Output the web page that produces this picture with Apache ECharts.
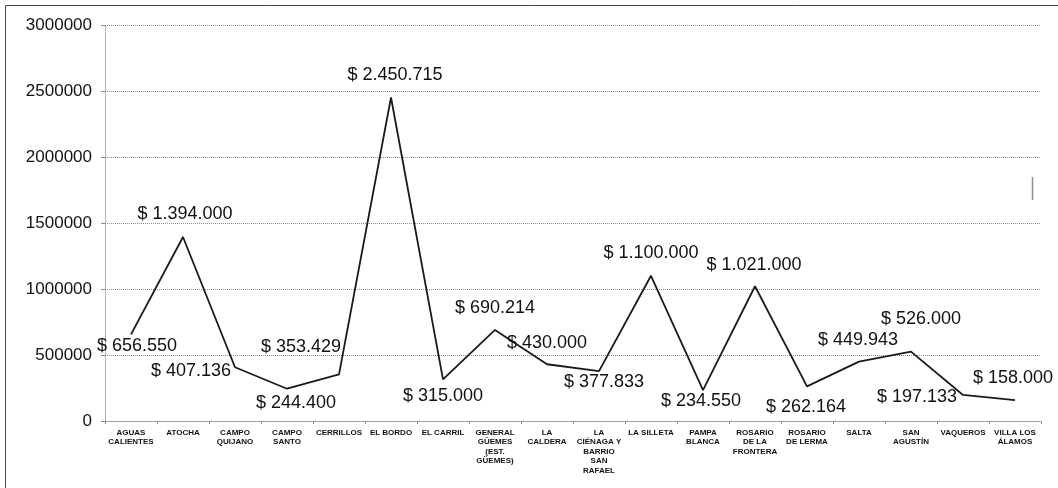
<!DOCTYPE html>
<html>
<head>
<meta charset="utf-8">
<script src="https://cdn.jsdelivr.net/npm/echarts@6/dist/echarts.min.js"></script>
<style>html,body{margin:0;padding:0;background:#fff;}#c{width:1058px;height:488px;}</style>
</head>
<body>
<div id="c"></div>
<script>
const categories = [
  "AGUAS\nCALIENTES", "ATOCHA", "CAMPO\nQUIJANO", "CAMPO\nSANTO", "CERRILLOS",
  "EL BORDO", "EL CARRIL", "GENERAL\nGÜEMES\n(EST.\nGÜEMES)", "LA\nCALDERA",
  "LA\nCIÉNAGA Y\nBARRIO\nSAN\nRAFAEL", "LA SILLETA", "PAMPA\nBLANCA",
  "ROSARIO\nDE LA\nFRONTERA", "ROSARIO\nDE LERMA", "SALTA", "SAN\nAGUSTÍN",
  "VAQUEROS", "VILLA LOS\nÁLAMOS"
];
const values = [
  656550, 1394000, 407136, 244400, 353429, 2450715, 315000, 690214, 430000,
  377833, 1100000, 234550, 1021000, 262164, 449943, 526000, 197133, 158000
];
const yTicks = { min: 0, max: 3000000, interval: 500000 };

// label offsets (label centre relative to the point), in px
const labelOffsets = [
  [6, 12], [2, -23], [-44, 4], [9, 14], [-38, -27], [4, -22], [0, 17], [0, -22], [0, -21],
  [5, 11], [0, -23], [-2, 11], [-1, -21], [-1, 21], [-1, -22], [10, -33], [-46, 2], [-2, -22]
];

function fmt(v) {
  return '$ ' + String(v).replace(/\B(?=(\d{3})+(?!\d))/g, '.');
}

const chart = echarts.init(document.getElementById('c'), null, { renderer: 'canvas' });
chart.setOption({
  backgroundColor: '#ffffff',
  animation: false,
  textStyle: { fontFamily: 'Liberation Sans, Arial, sans-serif' },
  grid: { left: 105, right: 17, top: 25, bottom: 67, containLabel: false },
  xAxis: {
    type: 'category',
    data: categories,
    boundaryGap: true,
    axisLine: { show: true, lineStyle: { color: '#8a8a8a', width: 1, type: 'dotted' } },
    axisTick: { show: true, length: 3, lineStyle: { color: '#8a8a8a' } },
    axisLabel: {
      interval: 0, fontSize: 8, fontWeight: 'bold', color: '#111', lineHeight: 9.5, margin: 7,
      fontFamily: 'Liberation Sans, Arial, sans-serif'
    },
    splitLine: { show: false }
  },
  yAxis: {
    type: 'value',
    min: yTicks.min, max: yTicks.max, interval: yTicks.interval,
    axisLine: { show: true, lineStyle: { color: '#a0a0a0', width: 1, type: 'dotted' } },
    axisTick: { show: true, length: 4, lineStyle: { color: '#8a8a8a' } },
    axisLabel: {
      fontSize: 17, color: '#111', margin: 13, fontFamily: 'Liberation Sans, Arial, sans-serif',
      formatter: v => String(v)
    },
    splitLine: { show: true, lineStyle: { color: '#8c8c8c', width: 1, type: 'dotted' } }
  },
  series: [{
    type: 'line',
    data: values,
    symbol: 'circle',
    symbolSize: 1,
    showSymbol: true,
    itemStyle: { color: 'rgba(0,0,0,0)', borderWidth: 0 },
    lineStyle: { color: '#1a1a1a', width: 1.8 },
    label: {
      show: true,
      position: 'inside',
      fontSize: 18,
      color: '#111',
      fontFamily: 'Liberation Sans, Arial, sans-serif',
      formatter: p => fmt(p.value)
    },
    labelLayout: p => ({
      dx: labelOffsets[p.dataIndex][0],
      dy: labelOffsets[p.dataIndex][1],
      hideOverlap: false
    })
  }],
  graphic: [
    { type: 'rect', shape: { x: 5.5, y: 5.5, width: 1200, height: 700 }, style: { fill: 'none', stroke: '#444', lineWidth: 1 }, silent: true, z: 100 },
    { type: 'line', shape: { x1: 1032.5, y1: 177, x2: 1032.5, y2: 200 }, style: { stroke: '#8890a0', lineWidth: 1.5 }, silent: true, z: 100 }
  ]
});
</script>
</body>
</html>
